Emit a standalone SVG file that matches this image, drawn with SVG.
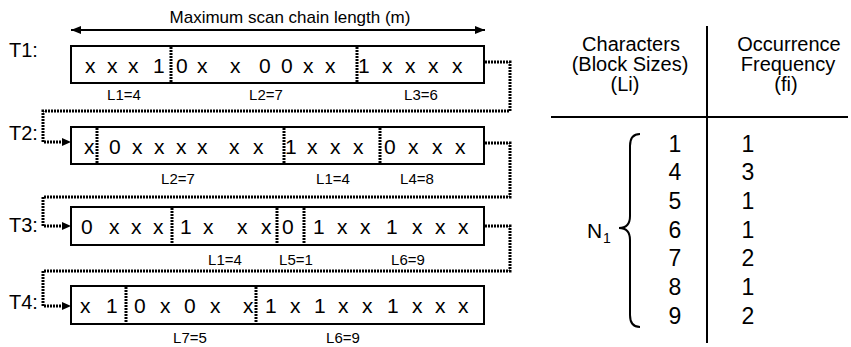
<svg xmlns="http://www.w3.org/2000/svg" width="851" height="347" viewBox="0 0 851 347">
<style>
text{font-family:"Liberation Sans",Arial,sans-serif;fill:#000}
.box{fill:#fff;stroke:#000;stroke-width:2}
.div{stroke:#000;stroke-width:3;stroke-dasharray:2 1;fill:none}
.con{stroke:#000;stroke-width:3;stroke-dasharray:2 1;fill:none}
.ch{font-size:21px}
.lb{font-size:15px;text-anchor:middle}
.tl{font-size:20px}
.hd{font-size:20px;text-anchor:middle}
.num{font-size:23px;text-anchor:middle}
.ln{stroke:#000;stroke-width:2;fill:none}
</style>
<defs>
<marker id="ahs" viewBox="0 0 10 8" refX="10" refY="4" markerWidth="10" markerHeight="8" markerUnits="userSpaceOnUse" orient="auto-start-reverse"><path d="M0,0 L10,4 L0,8 Z" fill="#000"/></marker>
</defs>

<g id="scan-length">
<line x1="71" y1="30" x2="485" y2="30" stroke="#000" stroke-width="2" marker-start="url(#ahs)" marker-end="url(#ahs)"/>
<text x="290" y="23" font-size="17" text-anchor="middle">Maximum scan chain length (m)</text>
</g>

<g id="connectors">
<path class="con" d="M485,62 H510 V111 H43 V142 H64"/>
<path class="con" d="M485,143 H510 V197 H43 V226 H64"/>
<path class="con" d="M485,226 H510 V271 H43 V306 H64"/>
<path d="M62,138 L71,142 L62,146 Z" fill="#000"/>
<path d="M62,222 L71,226 L62,230 Z" fill="#000"/>
<path d="M62,302 L71,306 L62,310 Z" fill="#000"/>
</g>

<g id="T1">
<text class="tl" x="9" y="57">T1:</text>
<rect class="box" x="71" y="46" width="413" height="37"/>
<line class="div" x1="171" y1="47" x2="171" y2="82"/>
<line class="div" x1="357" y1="47" x2="357" y2="82"/>
<text class="ch" x="85 107 128 153" y="73">xxx1</text>
<text class="ch" x="176 197 230 259 281 303 325" y="73">0xx00xx</text>
<text class="ch" x="358 382 405 428 452" y="73">1xxxx</text>
<text class="lb" x="124" y="100">L1=4</text>
<text class="lb" x="266" y="100">L2=7</text>
<text class="lb" x="421" y="100">L3=6</text>
</g>

<g id="T2">
<text class="tl" x="9" y="140">T2:</text>
<rect class="box" x="71" y="127" width="413" height="37"/>
<line class="div" x1="97" y1="128" x2="97" y2="163"/>
<line class="div" x1="284" y1="128" x2="284" y2="163"/>
<line class="div" x1="380" y1="128" x2="380" y2="163"/>
<text class="ch" x="84" y="154">x</text>
<text class="ch" x="109 132 154 176 197 229 253" y="154">0xxxxxx</text>
<text class="ch" x="285 307 330 353" y="154">1xxx</text>
<text class="ch" x="384 408 432 455" y="154">0xxx</text>
<text class="lb" x="178" y="184">L2=7</text>
<text class="lb" x="333" y="184">L1=4</text>
<text class="lb" x="417" y="184">L4=8</text>
</g>

<g id="T3">
<text class="tl" x="9" y="232">T3:</text>
<rect class="box" x="71" y="207" width="413" height="38"/>
<line class="div" x1="172" y1="208" x2="172" y2="244"/>
<line class="div" x1="277" y1="208" x2="277" y2="244"/>
<line class="div" x1="304" y1="208" x2="304" y2="244"/>
<text class="ch" x="81 109 131 153" y="234">0xxx</text>
<text class="ch" x="180 203 237 261" y="234">1xxx</text>
<text class="ch" x="282" y="234">0</text>
<text class="ch" x="313 337 360 386 412 435 458" y="234">1xx1xxx</text>
<text class="lb" x="225" y="265">L1=4</text>
<text class="lb" x="296" y="265">L5=1</text>
<text class="lb" x="408" y="265">L6=9</text>
</g>

<g id="T4">
<text class="tl" x="9" y="309">T4:</text>
<rect class="box" x="71" y="286" width="413" height="38"/>
<line class="div" x1="126" y1="287" x2="126" y2="323"/>
<line class="div" x1="256" y1="287" x2="256" y2="323"/>
<text class="ch" x="80 106" y="313">x1</text>
<text class="ch" x="134 160 184 210 243" y="313">0x0xx</text>
<text class="ch" x="265 290 314 338 362 387 412 435 458" y="313">1x1xx1xxx</text>
<text class="lb" x="190" y="343">L7=5</text>
<text class="lb" x="343" y="343">L6=9</text>
</g>

<g id="table">
<line class="ln" x1="707" y1="26" x2="707" y2="343"/>
<line class="ln" x1="551" y1="117" x2="848" y2="117"/>
<text class="hd" x="631" y="51">Characters</text>
<text class="hd" x="630" y="71">(Block Sizes)</text>
<text class="hd" x="625" y="91">(Li)</text>
<text class="hd" x="789" y="51">Occurrence</text>
<text class="hd" x="788" y="71">Frequency</text>
<text class="hd" x="786" y="91">(fi)</text>
<text class="num" x="675" y="152">1</text>
<text class="num" x="675" y="180">4</text>
<text class="num" x="675" y="209">5</text>
<text class="num" x="675" y="238">6</text>
<text class="num" x="675" y="266">7</text>
<text class="num" x="675" y="295">8</text>
<text class="num" x="675" y="324">9</text>
<text class="num" x="748" y="152">1</text>
<text class="num" x="748" y="180">3</text>
<text class="num" x="748" y="209">1</text>
<text class="num" x="748" y="238">1</text>
<text class="num" x="748" y="266">2</text>
<text class="num" x="748" y="295">1</text>
<text class="num" x="748" y="324">2</text>
</g>

<g id="N1">
<text x="587" y="238" font-size="21">N</text>
<text x="603" y="243" font-size="14">1</text>
<path class="ln" d="M640,134 Q630,134 630,146 V216 Q630,228 619,228 Q630,228 630,240 V315 Q630,327 640,327"/>
</g>
</svg>
